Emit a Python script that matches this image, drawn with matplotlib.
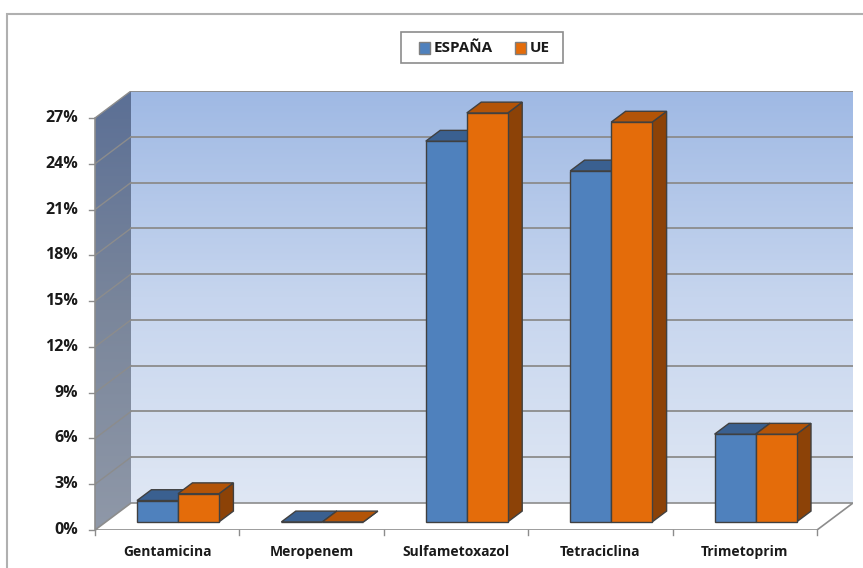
import numpy as np
import matplotlib
matplotlib.use('Agg')
import matplotlib.pyplot as plt
from matplotlib.patches import Polygon, Rectangle
from matplotlib.colors import LinearSegmentedColormap

plt.rcParams['font.family'] = ['Open Sans', 'DejaVu Sans']

categories = ['Gentamicina', 'Meropenem', 'Sulfametoxazol', 'Tetraciclina', 'Trimetoprim']
espana = [1.4, 0.0, 24.95, 23.0, 5.75]
ue = [1.85, 0.0, 26.8, 26.2, 5.75]
series_names = ['ESPAÑA', 'UE']
yticks = [0, 3, 6, 9, 12, 15, 18, 21, 24, 27]

W, H = 863, 568
PX_X = 144.4     # pixels per category
PX_Y = 15.26     # pixels per percent
DX = 36 / PX_X   # floor depth, x component
DY = 27 / PX_Y   # floor depth, y component
YMAX = 27
BAR_W = 0.284
Z_FRONT, Z_BACK = 0.3, 0.7

face_colors = [('#4f81bd', '#3a6090', '#2f4f7a'), ('#e46c0a', '#b35408', '#8c4207')]
edge = '#404040'
grid_c = '#8c8c8c'
text_c = '#1a1a1a'

fig = plt.figure(figsize=(W / 100, H / 100), dpi=100)
fig.patch.set_facecolor('white')
fig.add_artist(Rectangle((7 / W, -0.05), 1.1, 1 - 14 / H + 0.05, transform=fig.transFigure,
                         fill=False, edgecolor='#b0b0b0', linewidth=1.5))

left_px, bottom_px = 95, 530
ax = fig.add_axes([left_px / W, (H - bottom_px) / H,
                   (5 + DX) * PX_X / W, (YMAX + DY) * PX_Y / H])
ax.set_xlim(-0.5, 4.5 + DX)
ax.set_ylim(0, YMAX + DY)
ax.axis('off')

x0, x1 = -0.5, 4.5
grad = np.linspace(0, 1, 256).reshape(-1, 1)

# back wall with vertical gradient
back = Polygon([(x0 + DX, DY), (x1 + DX, DY), (x1 + DX, YMAX + DY), (x0 + DX, YMAX + DY)],
               closed=True, facecolor='none', edgecolor='none')
ax.add_patch(back)
cm_back = LinearSegmentedColormap.from_list('back', ['#dfe7f4', '#c6d5ee', '#9fb9e4'])
im = ax.imshow(grad, extent=[x0 + DX, x1 + DX, DY, YMAX + DY], origin='lower',
               cmap=cm_back, aspect='auto', zorder=0)
im.set_clip_path(back)

# left side wall
side = Polygon([(x0, 0), (x0 + DX, DY), (x0 + DX, YMAX + DY), (x0, YMAX)],
               closed=True, facecolor='none', edgecolor='none')
ax.add_patch(side)
cm_side = LinearSegmentedColormap.from_list('side', ['#8f98a8', '#7a869b', '#5b6f95'])
im2 = ax.imshow(grad, extent=[x0, x0 + DX, 0, YMAX + DY], origin='lower',
                cmap=cm_side, aspect='auto', zorder=0)
im2.set_clip_path(side)

# floor
ax.add_patch(Polygon([(x0, 0), (x1, 0), (x1 + DX, DY), (x0 + DX, DY)], closed=True,
                     facecolor='white', edgecolor=grid_c, linewidth=1.2, zorder=1))

# gridlines on back wall and side wall
for t in yticks[1:]:
    ax.plot([x0 + DX, x1 + DX], [t + DY, t + DY], color=grid_c, lw=1.3, zorder=1)
    ax.plot([x0, x0 + DX], [t, t + DY], color=grid_c, lw=1.0, zorder=1)

# value axis line, ticks and labels
ax.plot([x0, x0], [0, YMAX], color=grid_c, lw=1.2, zorder=2, clip_on=False)
for t in yticks:
    ax.plot([x0 - 6 / PX_X, x0], [t, t], color=grid_c, lw=1.0, clip_on=False)
    ax.text(x0 - 17 / PX_X, t, f'{t}%', ha='right', va='center', fontsize=11.5,
            fontweight='bold', color=text_c)

# category ticks and labels
for b in np.arange(x0, x1 + 0.01, 1.0):
    ax.plot([b, b], [0, -5 / PX_Y], color=grid_c, lw=1.0, clip_on=False)
for i, name in enumerate(categories):
    ax.text(i, -26 / PX_Y, name, ha='center', va='baseline', fontsize=10,
            fontweight='bold', color=text_c)


def draw_bar(xl, value, colors, z):
    front, top, right = colors
    dxf, dyf = Z_FRONT * DX, Z_FRONT * DY
    dd_x, dd_y = (Z_BACK - Z_FRONT) * DX, (Z_BACK - Z_FRONT) * DY
    xa, xb = xl + dxf, xl + BAR_W + dxf
    base, top_y = dyf, dyf + value
    ax.add_patch(Polygon([(xb, base), (xb + dd_x, base + dd_y), (xb + dd_x, top_y + dd_y), (xb, top_y)],
                         closed=True, facecolor=right, edgecolor=edge, lw=1.0, zorder=z))
    ax.add_patch(Polygon([(xa, base), (xb, base), (xb, top_y), (xa, top_y)],
                         closed=True, facecolor=front, edgecolor=edge, lw=1.0, zorder=z))
    ax.add_patch(Polygon([(xa, top_y), (xb, top_y), (xb + dd_x, top_y + dd_y), (xa + dd_x, top_y + dd_y)],
                         closed=True, facecolor=top, edgecolor=edge, lw=1.0, zorder=z))


for i in range(len(categories)):
    draw_bar(i - BAR_W, espana[i], face_colors[0], 3 + 2 * i)
    draw_bar(i, ue[i], face_colors[1], 4 + 2 * i)


# legend box drawn in figure pixels
def fpx(x, y):
    return x / W, 1 - y / H


lx0, ly0 = fpx(401, 63)
fig.add_artist(Rectangle((lx0, ly0), 162 / W, 31 / H, transform=fig.transFigure,
                         facecolor='white', edgecolor='#8c8c8c', linewidth=1.2))
for k, (mx, tx) in enumerate([(419, 434), (515, 530)]):
    sx, sy = fpx(mx, 53.5)
    fig.add_artist(Rectangle((sx, sy), 11 / W, 11 / H, transform=fig.transFigure,
                             facecolor=face_colors[k][0], edgecolor='#7f7f7f', linewidth=1.0))
    tx_f, ty_f = fpx(tx, 48)
    fig.text(tx_f, ty_f, series_names[k], ha='left', va='center', fontsize=11,
             fontweight='bold', color=text_c)

fig.savefig('out.png', dpi=100)
